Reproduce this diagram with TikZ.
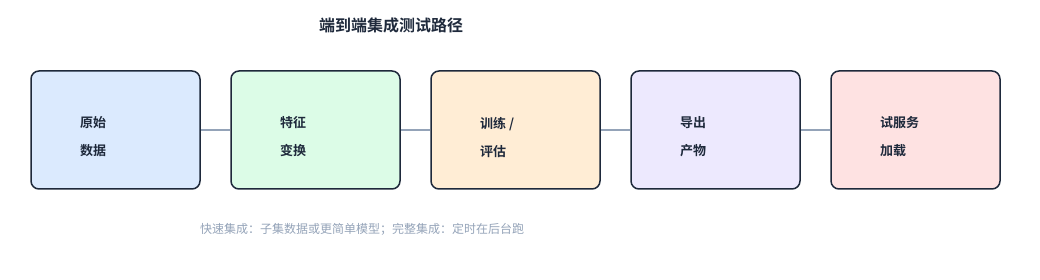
\documentclass[tikz,border=0pt]{standalone}
\usepackage{fontspec}
\newfontfamily\cjk{Noto Sans CJK SC}
\newfontfamily\cjkb{Noto Sans CJK SC Bold}
\definecolor{bordercol}{HTML}{1E293B}
\definecolor{linecol}{HTML}{94A3B8}
\definecolor{notecol}{HTML}{94A3B8}
\definecolor{titlecol}{HTML}{1E293B}
\definecolor{fblue}{HTML}{DBEAFE}
\definecolor{fgreen}{HTML}{DCFCE7}
\definecolor{forange}{HTML}{FFEDD5}
\definecolor{fpurple}{HTML}{EDE9FE}
\definecolor{fred}{HTML}{FEE2E2}
\tikzset{
  stagebox/.style={draw=bordercol, line width=1.5pt, rounded corners=8pt, minimum width=169pt, minimum height=118pt, inner sep=0pt},
  stagetext/.style={anchor=west, align=left, font=\cjkb\fontsize{13}{28}\selectfont, text=bordercol, inner sep=0pt},
  link/.style={draw=linecol, line width=1.5pt},
}
\begin{document}
\begin{tikzpicture}[x=1pt,y=-1pt]
\useasboundingbox (0,0) rectangle (1040,280);
\node[font=\cjkb\fontsize{16}{18}\selectfont, text=titlecol] (title) at (391,25) {端到端集成测试路径};
\node[stagebox, fill=fblue] (b1) at (115.5,130) {};
\node[stagebox, fill=fgreen] (b2) at (315.5,130) {};
\node[stagebox, fill=forange] (b3) at (515.5,130) {};
\node[stagebox, fill=fpurple] (b4) at (715.5,130) {};
\node[stagebox, fill=fred] (b5) at (915.5,130) {};
\node[stagetext] (t1) at (80,137) {原始\\数据};
\node[stagetext] (t2) at (280,137) {特征\\变换};
\node[stagetext] (t3) at (480,137) {训练 /\\评估};
\node[stagetext] (t4) at (680,137) {导出\\产物};
\node[stagetext] (t5) at (880,137) {试服务\\加载};
\draw[link] (b1.east) -- (b2.west);
\draw[link] (b2.east) -- (b3.west);
\draw[link] (b3.east) -- (b4.west);
\draw[link] (b4.east) -- (b5.west);
\node[anchor=west, inner sep=0pt, font=\cjk\fontsize{12}{14}\selectfont, text=notecol] (note) at (200,229) {快速集成：子集数据或更简单模型；完整集成：定时在后台跑};
\end{tikzpicture}
\end{document}
